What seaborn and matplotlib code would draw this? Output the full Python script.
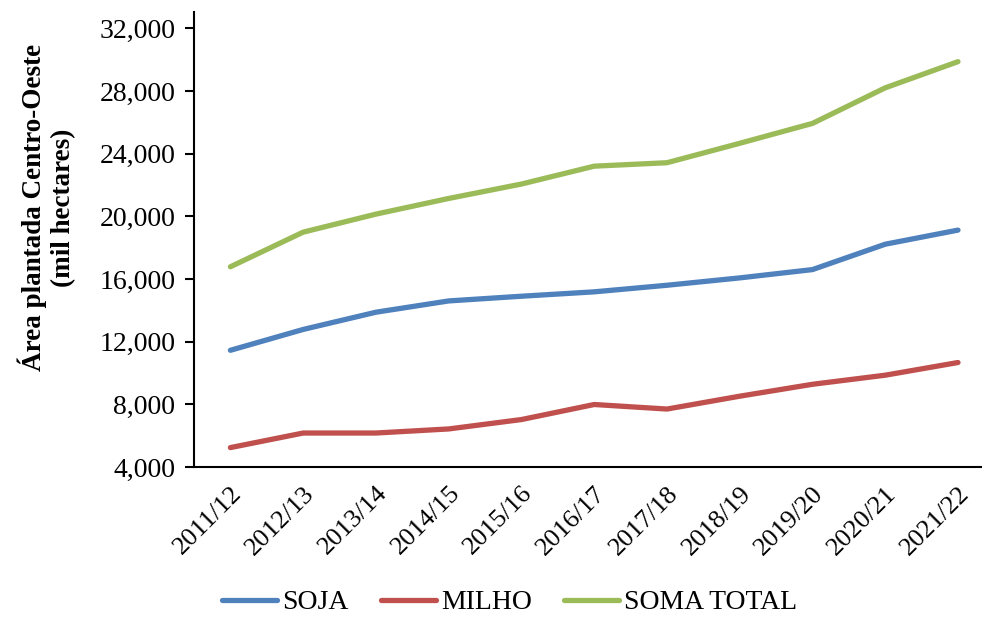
import matplotlib
matplotlib.use("Agg")
import matplotlib.pyplot as plt
import seaborn as sns
import pandas as pd
from matplotlib.ticker import FuncFormatter, FixedLocator

safras = ["2011/12", "2012/13", "2013/14", "2014/15", "2015/16", "2016/17",
          "2017/18", "2018/19", "2019/20", "2020/21", "2021/22"]
soja = [11450, 12780, 13880, 14600, 14900, 15180, 15600, 16070, 16600, 18220, 19120]
milho = [5240, 6170, 6170, 6430, 7030, 7990, 7700, 8520, 9280, 9860, 10670]
soma_total = [16780, 18990, 20140, 21140, 22060, 23200, 23420, 24660, 25930, 28200, 29870]
series_names = ["SOJA", "MILHO", "SOMA TOTAL"]
yticks = [4000, 8000, 12000, 16000, 20000, 24000, 28000, 32000]

rows = []
for name, vals in zip(series_names, [soja, milho, soma_total]):
    for i, (s, v) in enumerate(zip(safras, vals)):
        rows.append({"idx": i, "safra": s, "serie": name, "valor": v})
df = pd.DataFrame(rows)

sns.set_style("white")
plt.rcParams["font.family"] = ["Liberation Serif", "DejaVu Serif"]
plt.rcParams["text.color"] = "black"
plt.rcParams["axes.labelcolor"] = "black"
plt.rcParams["xtick.color"] = "black"
plt.rcParams["ytick.color"] = "black"

fig = plt.figure(figsize=(9.82, 6.18), dpi=100)
ax = fig.add_axes([0.1976, 0.2443, 0.8024, 0.7363])

palette = {"SOJA": "#4F81BD", "MILHO": "#C0504D", "SOMA TOTAL": "#9BBB59"}
sns.lineplot(data=df, x="idx", y="valor", hue="serie", palette=palette,
             hue_order=series_names, linewidth=3.8, ax=ax, legend=True)
for ln in ax.get_lines():
    ln.set_solid_capstyle("round")

ax.set_xlim(-0.5, 10.33)
ax.set_ylim(4000, 33040)
ax.yaxis.set_major_locator(FixedLocator(yticks))
ax.yaxis.set_major_formatter(FuncFormatter(lambda v, p: f"{int(v):,}"))
ax.set_xticks(range(len(safras)))
ax.set_xticklabels(safras, rotation=45, ha="right", rotation_mode="anchor", fontsize=19)
ax.tick_params(axis="x", length=0, pad=11)
ax.tick_params(axis="y", which="major", direction="out", length=6.5, width=1.5,
               color="black", labelsize=20, pad=7, left=True)
for s in ["top", "right"]:
    ax.spines[s].set_visible(False)
for s in ["left", "bottom"]:
    ax.spines[s].set_color("black")
    ax.spines[s].set_linewidth(1.5)

ax.set_xlabel("")
ax.set_ylabel("Área plantada Centro-Oeste\n(mil hectares)", fontsize=19.5,
              fontweight="bold", linespacing=1.22)
ax.yaxis.set_label_coords(-0.150, 0.57)

handles, labels = ax.get_legend_handles_labels()
ax.get_legend().remove()
fig.legend(handles, labels, loc="lower center", bbox_to_anchor=(0.519, -0.036),
           ncol=3, frameon=False, fontsize=20, handlelength=2.0,
           handletextpad=0.18, columnspacing=1.15)

fig.savefig("out.png", dpi=100)
